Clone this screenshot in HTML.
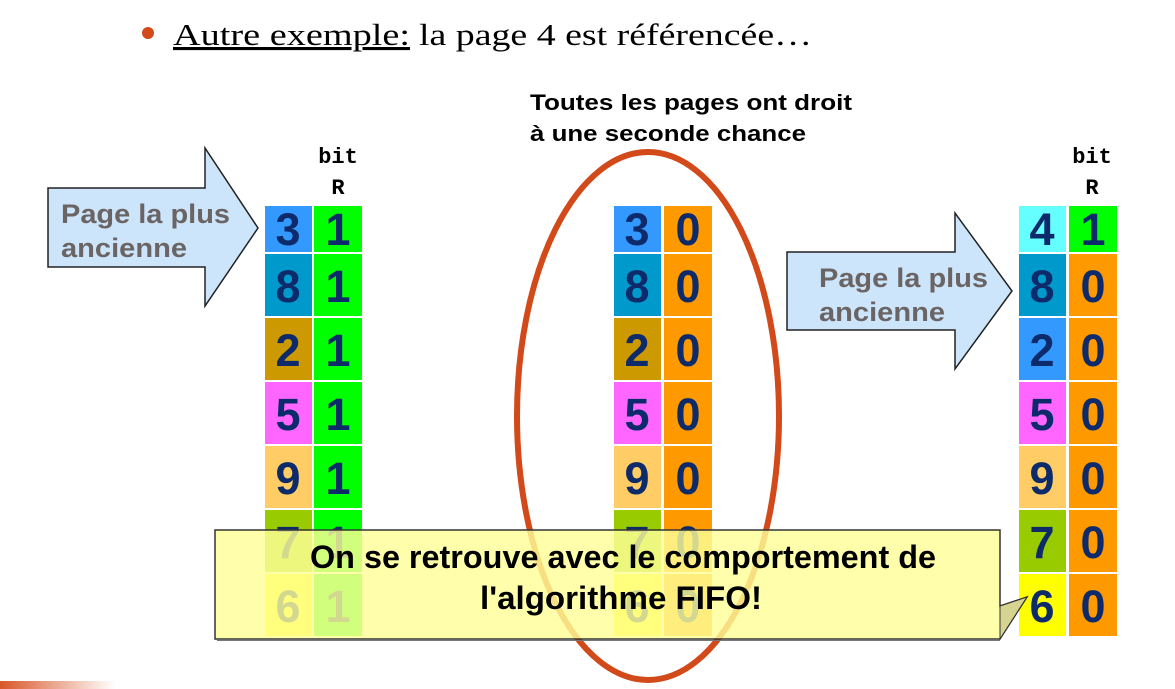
<!DOCTYPE html>
<html><head><meta charset="utf-8"><style>
html,body{margin:0;padding:0;background:#fff;width:1175px;height:689px;overflow:hidden}
svg{display:block}
</style></head><body>
<svg width="1175" height="689" viewBox="0 0 1175 689" xmlns="http://www.w3.org/2000/svg">
<defs>
<linearGradient id="g" x1="0" x2="1"><stop offset="0" stop-color="#d9582a"/><stop offset="1" stop-color="#fff"/></linearGradient>
</defs>
<rect x="0" y="681" width="115" height="8" fill="url(#g)"/>
<circle cx="148" cy="33" r="6" fill="#d24a1a"/>
<text x="173" y="45" font-family="Liberation Serif,serif" font-size="31" textLength="237" lengthAdjust="spacingAndGlyphs" text-decoration="underline">Autre exemple:</text>
<text x="419" y="45" font-family="Liberation Serif,serif" font-size="31" textLength="393" lengthAdjust="spacingAndGlyphs">la page 4 est référencée…</text>
<g font-family="Liberation Sans,Arial,sans-serif" font-weight="bold" font-size="22">
<text x="530" y="110" textLength="322" lengthAdjust="spacingAndGlyphs">Toutes les pages ont droit</text>
<text x="530" y="141" textLength="276" lengthAdjust="spacingAndGlyphs">à une seconde chance</text>
</g>
<g font-family="Liberation Mono,monospace" font-weight="bold" font-size="22" text-anchor="middle">
<text x="338" y="163">bit</text><text x="338" y="194">R</text>
<text x="1092" y="163">bit</text><text x="1092" y="194">R</text>
</g>
<path d="M48,188 H205 V148 L258,228 L205,306 V267 H48 Z" fill="#cce5fb" stroke="#222" stroke-width="1.5"/>
<path d="M787,252 H955 V213 L1012,291 L955,369 V330 H787 Z" fill="#cce5fb" stroke="#222" stroke-width="1.5"/>
<g font-family="Liberation Sans,Arial,sans-serif" font-weight="bold" font-size="27" fill="#6b6464">
<text x="61" y="223" textLength="169" lengthAdjust="spacingAndGlyphs">Page la plus</text><text x="61" y="257" textLength="126" lengthAdjust="spacingAndGlyphs">ancienne</text>
<text x="819" y="287" textLength="169" lengthAdjust="spacingAndGlyphs">Page la plus</text><text x="819" y="321" textLength="126" lengthAdjust="spacingAndGlyphs">ancienne</text>
</g>
<ellipse cx="648" cy="416" rx="131" ry="264" fill="none" stroke="#d24a1a" stroke-width="6"/>
<g font-family="Liberation Sans,Arial,sans-serif" font-weight="bold" font-size="45" fill="#0d2a6b" text-anchor="middle">
<rect x="265" y="206" width="47" height="46" fill="#3399ff"/><rect x="314" y="206" width="48" height="46" fill="#00ff00"/>
<rect x="265" y="254" width="47" height="62" fill="#0099cc"/><rect x="314" y="254" width="48" height="62" fill="#00ff00"/>
<rect x="265" y="318" width="47" height="62" fill="#cc9900"/><rect x="314" y="318" width="48" height="62" fill="#00ff00"/>
<rect x="265" y="382" width="47" height="62" fill="#ff66ff"/><rect x="314" y="382" width="48" height="62" fill="#00ff00"/>
<rect x="265" y="446" width="47" height="62" fill="#ffcc66"/><rect x="314" y="446" width="48" height="62" fill="#00ff00"/>
<rect x="265" y="510" width="47" height="62" fill="#99cc00"/><rect x="314" y="510" width="48" height="62" fill="#00ff00"/>
<rect x="265" y="574" width="47" height="62" fill="#ffff00"/><rect x="314" y="574" width="48" height="62" fill="#00ff00"/>
<text x="288" y="245">3</text><text x="338" y="245">1</text>
<text x="288" y="302">8</text><text x="338" y="302">1</text>
<text x="288" y="366">2</text><text x="338" y="366">1</text>
<text x="288" y="430">5</text><text x="338" y="430">1</text>
<text x="288" y="494">9</text><text x="338" y="494">1</text>
<text x="288" y="558">7</text><text x="338" y="558">1</text>
<text x="288" y="622">6</text><text x="338" y="622">1</text>
<rect x="614" y="206" width="47" height="46" fill="#3399ff"/><rect x="664" y="206" width="48" height="46" fill="#ff9900"/>
<rect x="614" y="254" width="47" height="62" fill="#0099cc"/><rect x="664" y="254" width="48" height="62" fill="#ff9900"/>
<rect x="614" y="318" width="47" height="62" fill="#cc9900"/><rect x="664" y="318" width="48" height="62" fill="#ff9900"/>
<rect x="614" y="382" width="47" height="62" fill="#ff66ff"/><rect x="664" y="382" width="48" height="62" fill="#ff9900"/>
<rect x="614" y="446" width="47" height="62" fill="#ffcc66"/><rect x="664" y="446" width="48" height="62" fill="#ff9900"/>
<rect x="614" y="510" width="47" height="62" fill="#99cc00"/><rect x="664" y="510" width="48" height="62" fill="#ff9900"/>
<rect x="614" y="574" width="47" height="62" fill="#ffff00"/><rect x="664" y="574" width="48" height="62" fill="#ff9900"/>
<text x="637" y="245">3</text><text x="688" y="245">0</text>
<text x="637" y="302">8</text><text x="688" y="302">0</text>
<text x="637" y="366">2</text><text x="688" y="366">0</text>
<text x="637" y="430">5</text><text x="688" y="430">0</text>
<text x="637" y="494">9</text><text x="688" y="494">0</text>
<text x="637" y="558">7</text><text x="688" y="558">0</text>
<text x="637" y="622">6</text><text x="688" y="622">0</text>
<rect x="1019" y="206" width="47" height="46" fill="#66ffff"/><rect x="1069" y="206" width="48" height="46" fill="#00ff00"/>
<rect x="1019" y="254" width="47" height="62" fill="#0099cc"/><rect x="1069" y="254" width="48" height="62" fill="#ff9900"/>
<rect x="1019" y="318" width="47" height="62" fill="#3399ff"/><rect x="1069" y="318" width="48" height="62" fill="#ff9900"/>
<rect x="1019" y="382" width="47" height="62" fill="#ff66ff"/><rect x="1069" y="382" width="48" height="62" fill="#ff9900"/>
<rect x="1019" y="446" width="47" height="62" fill="#ffcc66"/><rect x="1069" y="446" width="48" height="62" fill="#ff9900"/>
<rect x="1019" y="510" width="47" height="62" fill="#99cc00"/><rect x="1069" y="510" width="48" height="62" fill="#ff9900"/>
<rect x="1019" y="574" width="47" height="62" fill="#ffff00"/><rect x="1069" y="574" width="48" height="62" fill="#ff9900"/>
<text x="1042" y="245">4</text><text x="1093" y="245">1</text>
<text x="1042" y="302">8</text><text x="1093" y="302">0</text>
<text x="1042" y="366">2</text><text x="1093" y="366">0</text>
<text x="1042" y="430">5</text><text x="1093" y="430">0</text>
<text x="1042" y="494">9</text><text x="1093" y="494">0</text>
<text x="1042" y="558">7</text><text x="1093" y="558">0</text>
<text x="1042" y="622">6</text><text x="1093" y="622">0</text>
</g>
<path d="M215,530 H1000 L1000,606 L1027,597 L1000,639 H215 Z" fill="#ffff99" fill-opacity="0.82" stroke="#333" stroke-width="1.5"/>
<path d="M1000,606 L1027,597 L1000,639 Z" fill="#d6d490" stroke="#333" stroke-width="1"/>
<line x1="217" y1="640.5" x2="1000" y2="640.5" stroke="#777" stroke-width="1"/>
<g font-family="Liberation Sans,Arial,sans-serif" font-weight="bold" font-size="32" text-anchor="middle">
<text x="623" y="568" textLength="626" lengthAdjust="spacingAndGlyphs">On se retrouve avec le comportement de</text>
<text x="621" y="609" textLength="282" lengthAdjust="spacingAndGlyphs">l'algorithme FIFO!</text>
</g>
</svg>
</body></html>
